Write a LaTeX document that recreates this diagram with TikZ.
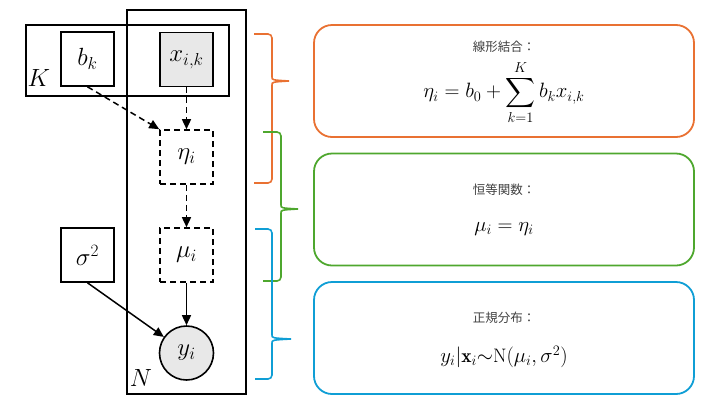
\documentclass[tikz,border=0pt]{standalone}
\usepackage{amsmath}
\usepackage{fontspec}
\newfontfamily\cjk{Noto Sans CJK JP}
\usetikzlibrary{arrows.meta}
\definecolor{borange}{HTML}{E97132}
\definecolor{bgreen}{HTML}{4EA72E}
\definecolor{bblue}{HTML}{0F9ED5}
\definecolor{obsfill}{HTML}{E8E8E8}
\definecolor{jtext}{HTML}{404040}
\tikzset{
  plate/.style={draw, line width=1.8pt},
  var/.style={draw, line width=1.6pt, minimum width=53pt, minimum height=54pt, inner sep=0pt, font=\fontsize{23}{27}\selectfont},
  detvar/.style={var, dash pattern=on 6pt off 4pt},
  obs/.style={fill=obsfill},
  obscirc/.style={draw, circle, line width=1.6pt, fill=obsfill, minimum size=54pt, inner sep=0pt, font=\fontsize{23}{27}\selectfont},
  arr/.style={line width=1.5pt, -{Triangle[length=10pt,width=9pt]}},
  darr/.style={arr, dash pattern=on 6pt off 4pt},
  infobox/.style={draw, line width=1.8pt, rounded corners=18pt, minimum width=380pt, minimum height=112pt},
  jtitle/.style={font=\cjk\fontsize{12.5}{14}\selectfont, text=jtext, inner sep=1pt},
  formula/.style={font=\fontsize{19.5}{23}\selectfont, inner sep=0pt},
  brace/.style={line width=1.6pt},
  platelabel/.style={font=\fontsize{23}{27}\selectfont, inner sep=0pt}
}
\begin{document}
\begin{tikzpicture}[x=1pt,y=-1pt]
\useasboundingbox (0,0) rectangle (720,405);
% plates
\draw[plate] (26,25) rectangle (229,96);
\draw[plate] (127,10) rectangle (246,394);
\node[platelabel] (Klab) at (39,78) {$K$};
\node[platelabel] (Nlab) at (141,378) {$N$};
% variables
\node[var] (b) at (87.5,59) {$b_k$};
\node[var, obs] (x) at (186.5,59.5) {$x_{i,k}$};
\node[detvar] (eta) at (186.5,157) {$\eta_i$};
\node[detvar] (mu) at (186.5,255) {$\mu_i$};
\node[var] (sig) at (87.5,255) {$\sigma^2$};
\node[obscirc] (y) at (186.5,353) {$y_i$};
% edges
\draw[darr] (b.south) -- (eta.north west);
\draw[darr] (x.south) -- (eta.north);
\draw[darr] (eta.south) -- (mu.north);
\draw[arr] (mu.south) -- (y.north);
\draw[arr] (sig.south) -- (y);
% braces
\draw[brace, borange] (254,34) -- (268,34) to[out=0,in=90] (272,38) -- (272,77) .. controls (272,80) .. (289,81) .. controls (272,82) .. (272,85) -- (272,179) to[out=-90,in=0] (268,183) -- (254,183);
\draw[brace, bgreen] (263,132) -- (277,132) to[out=0,in=90] (281,136) -- (281,205) .. controls (281,208) .. (298,209) .. controls (281,210) .. (281,213) -- (281,277) to[out=-90,in=0] (277,281) -- (263,281);
\draw[brace, bblue] (255,229) -- (268,229) to[out=0,in=90] (272,233) -- (272,335) .. controls (272,338) .. (291,339) .. controls (272,340) .. (272,343) -- (272,375) to[out=-90,in=0] (268,379) -- (255,379);
% info boxes
\node[infobox, draw=borange] (box1) at (504,81) {};
\node[infobox, draw=bgreen] (box2) at (504,209.5) {};
\node[infobox, draw=bblue] (box3) at (504,338) {};
\node[jtitle] (t1) at (504,47) {線形結合：};
\node[formula] (f1) at (504,92.5) {$\displaystyle \eta_i = b_0 + \sum_{k=1}^{K} b_k x_{i,k}$};
\node[jtitle] (t2) at (504,190) {恒等関数：};
\node[formula] (f2) at (504,229) {$\mu_i = \eta_i$};
\node[jtitle] (t3) at (504,318) {正規分布：};
\node[formula] (f3) at (504,357) {$y_i|\mathbf{x}_i{\sim}\mathrm{N}(\mu_i,\sigma^2)$};
\end{tikzpicture}
\end{document}
